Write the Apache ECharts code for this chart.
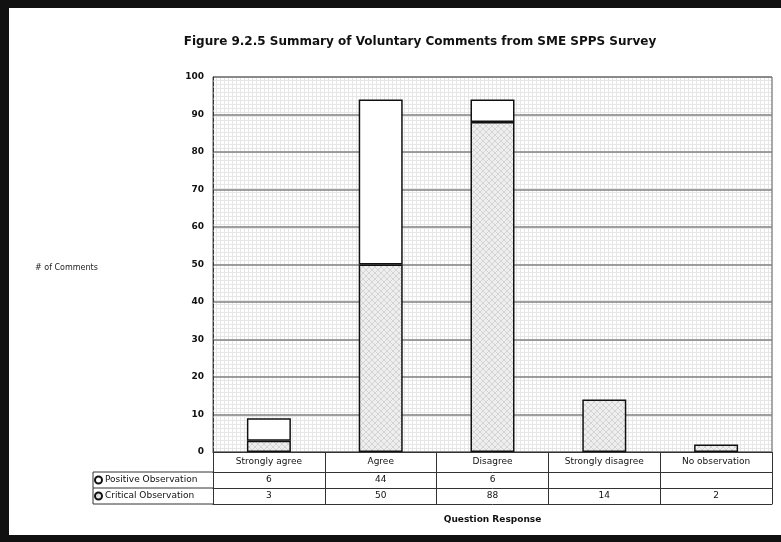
<!DOCTYPE html>
<html><head><meta charset="utf-8">
<script src="https://cdn.jsdelivr.net/npm/echarts@6/dist/echarts.min.js"></script>
<style>html,body{margin:0;padding:0;background:#fff}#c{width:781px;height:542px}</style>
</head><body><div id="c"></div>
<script>
const categories = ['Strongly agree', 'Agree', 'Disagree', 'Strongly disagree', 'No observation'];
const positiveValues = [6, 44, 6, null, null];
const criticalValues = [3, 50, 88, 14, 2];
const yTicks = [0, 10, 20, 30, 40, 50, 60, 70, 80, 90, 100];

function makeGridPattern() {
  const c = document.createElement('canvas'); c.width = 4; c.height = 4;
  const g = c.getContext('2d');
  g.fillStyle = '#ffffff'; g.fillRect(0, 0, 4, 4);
  g.fillStyle = '#e6e6e6'; g.fillRect(0, 0, 1, 4); g.fillRect(0, 0, 4, 1);
  return c;
}
function makeHatch() {
  const c = document.createElement('canvas'); c.width = 6; c.height = 6;
  const g = c.getContext('2d');
  g.fillStyle = '#eeeeee'; g.fillRect(0, 0, 6, 6);
  g.strokeStyle = '#cdcdcd'; g.lineWidth = 0.8;
  g.beginPath(); g.moveTo(0, 0); g.lineTo(6, 6); g.moveTo(6, 0); g.lineTo(0, 6); g.stroke();
  return c;
}
const hatch = { image: makeHatch(), repeat: 'repeat' };
const gridBg = { image: makeGridPattern(), repeat: 'repeat' };
const F = 'DejaVu Sans, Verdana, sans-serif';

const chart = echarts.init(document.getElementById('c'), null, { renderer: 'canvas' });
const baseX = {
  type: 'category', data: categories, position: 'bottom', gridIndex: 0,
  axisLine: { show: true, lineStyle: { color: '#333', width: 1 } },
  axisTick: { show: true, length: 16, lineStyle: { color: '#333' } },
  splitLine: { show: false }
};
chart.setOption({
  animation: false,
  backgroundColor: '#fff',
  title: [
    { text: 'Figure 9.2.5 Summary of Voluntary Comments from SME SPPS Survey', left: 415, top: 31, textAlign: 'center',
      textStyle: { fontFamily: F, fontSize: 12, fontWeight: 'bold', color: '#111' } },
    { text: '# of Comments', left: 30, top: 259, textStyle: { fontFamily: F, fontSize: 8, fontWeight: 'normal', color: '#222' } }
  ],
  legend: {
    orient: 'vertical', left: 94, top: 475, itemWidth: 7, itemHeight: 7, itemGap: 6, icon: 'circle',
    data: ['Positive Observation', 'Critical Observation'],
    textStyle: { fontFamily: F, fontSize: 9, lineHeight: 10, color: '#111', padding: [0, 0, 0, -2] },
    padding: 0
  },
  grid: { left: 213, right: 9, top: 77, bottom: 90, show: true, backgroundColor: gridBg, borderColor: '#555', borderWidth: 1 },
  xAxis: [
    Object.assign({}, baseX, { offset: 0, axisTick: { show: true, length: 20, lineStyle: { color: '#333' } },
      axisLabel: { fontFamily: F, fontSize: 9, color: '#111', margin: 5 } }),
    Object.assign({}, baseX, { offset: 20,
      axisLabel: { fontFamily: F, fontSize: 9, color: '#111', margin: 3, formatter: (v, i) => positiveValues[i] == null ? '' : String(positiveValues[i]) } }),
    Object.assign({}, baseX, { offset: 36,
      axisLabel: { fontFamily: F, fontSize: 9, color: '#111', margin: 3, formatter: (v, i) => criticalValues[i] == null ? '' : String(criticalValues[i]) } }),
    Object.assign({}, baseX, { offset: 52, axisTick: { show: false }, axisLabel: { show: false },
      name: 'Question Response', nameLocation: 'middle', nameGap: 11,
      nameTextStyle: { fontFamily: F, fontSize: 9, fontWeight: 'bold', color: '#111' } })
  ],
  yAxis: {
    type: 'value', min: 0, max: 100, interval: 10,
    axisLine: { show: true, lineStyle: { color: '#333', type: 'dashed', width: 1 } },
    axisTick: { show: false },
    axisLabel: { fontFamily: F, fontSize: 9, fontWeight: 'bold', color: '#111', margin: 9,
      formatter: v => yTicks.indexOf(v) >= 0 ? String(v) : '' },
    splitLine: { show: true, lineStyle: { color: '#808080', width: 1.5 } }
  },
  series: [
    { name: 'Critical Observation', type: 'bar', stack: 's', data: criticalValues, barWidth: 44, xAxisIndex: 0,
      itemStyle: { color: hatch, borderColor: '#111', borderWidth: 1.5 } },
    { name: 'Positive Observation', type: 'bar', stack: 's', data: positiveValues, barWidth: 44, xAxisIndex: 0,
      itemStyle: { color: '#fff', borderColor: '#111', borderWidth: 1.5 } }
  ],
  graphic: [
    { type: 'rect', shape: { x: 0, y: 0, width: 781, height: 8 }, style: { fill: '#111' }, silent: true },
    { type: 'rect', shape: { x: 0, y: 0, width: 9, height: 542 }, style: { fill: '#111' }, silent: true },
    { type: 'rect', shape: { x: 0, y: 535, width: 781, height: 7 }, style: { fill: '#111' }, silent: true },
    { type: 'polyline', shape: { points: [[213, 472], [93, 472], [93, 504], [213, 504]] }, style: { stroke: '#333', fill: null, lineWidth: 1 }, silent: true },
    { type: 'line', shape: { x1: 93, y1: 488, x2: 213, y2: 488 }, style: { stroke: '#333', lineWidth: 1 }, silent: true }
  ]
});
</script></body></html>
